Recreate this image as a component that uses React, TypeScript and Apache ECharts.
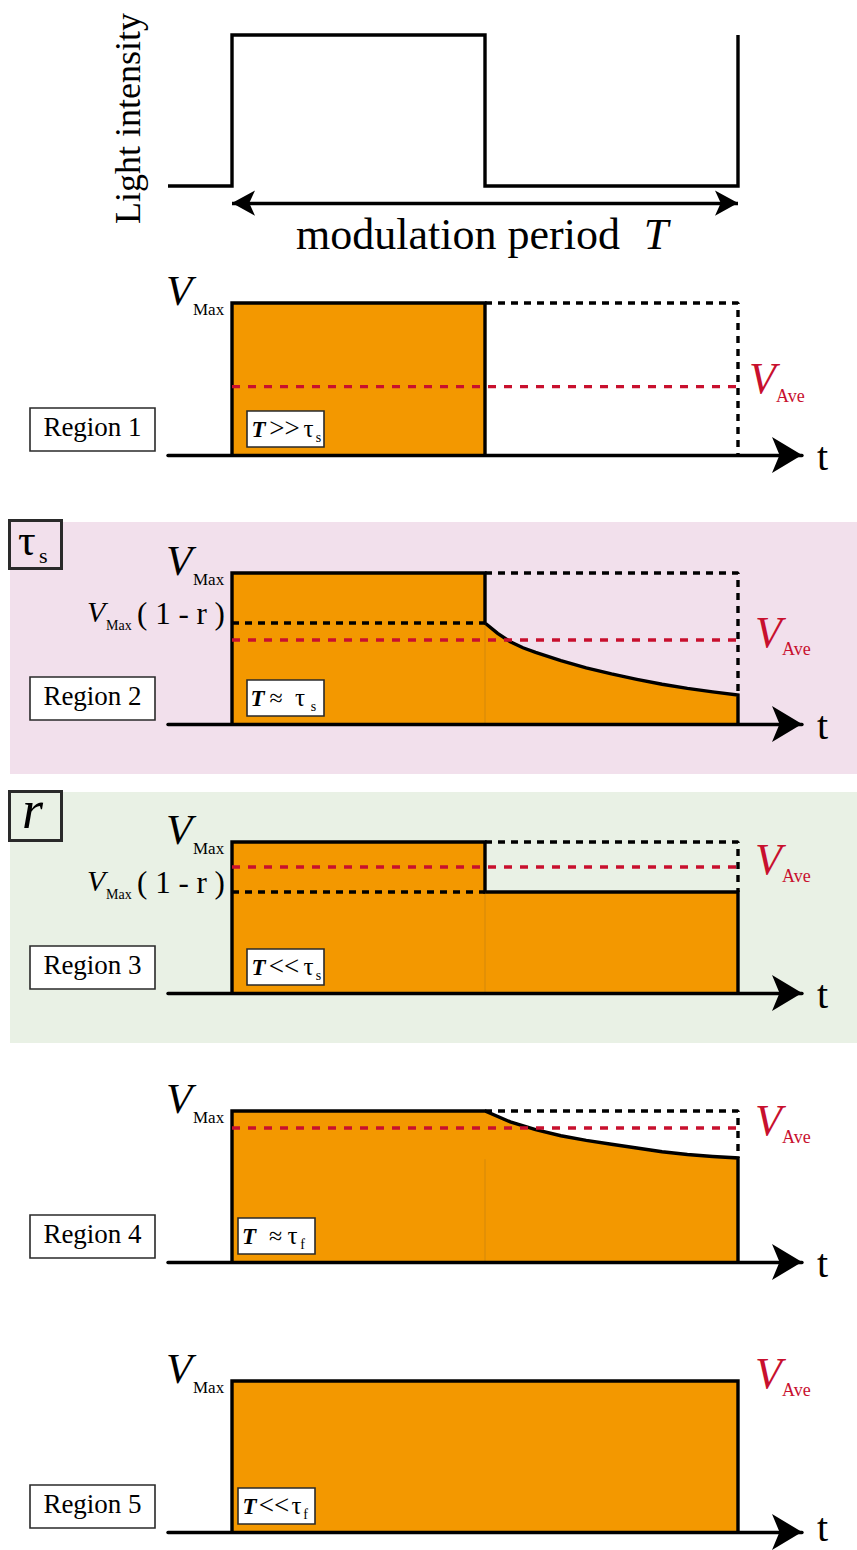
import React, { useEffect, useRef } from "react";
import * as echarts from "echarts";

// ---------- axis ranges (time in units of the period T, voltage in units of V_Max)
const X_MIN = -0.1265;
const X_MAX = 1.1265;
const Y_MAX = 1.1;
const Y_MIN_TOP = -0.2;
const Y_MIN_REGION = -0.1;

// ---------- light intensity (square wave)
const lightT = [-0.1265, 0, 0, 0.5, 0.5, 1, 1];
const lightI = [0, 0, 1, 1, 0, 0, 1];
const periodArrowLevel = -0.113;

// ---------- Region 1 : T >> tau_s
const r1T = [0, 0, 0.5, 0.5];
const r1V = [0, 1, 1, 0];
const r1IdealT = [0.5, 1, 1];
const r1IdealV = [1, 1, 0];
const r1Ave = 0.45;

// ---------- Region 2 : T ~ tau_s
const r2T = [0, 0, 0.5, 0.5, 0.525, 0.55, 0.575, 0.6, 0.65, 0.7, 0.75, 0.8, 0.85, 0.9, 0.95, 1, 1];
const r2V = [0, 1, 1, 0.669, 0.6, 0.545, 0.505, 0.475, 0.42, 0.372, 0.332, 0.296, 0.263, 0.236, 0.213, 0.192, 0];
const r2IdealT = [0.5, 1, 1];
const r2IdealV = [1, 1, 0.192];
const r2Low = 0.669;
const r2Ave = 0.556;

// ---------- Region 3 : T << tau_s
const r3T = [0, 0, 0.5, 0.5, 1, 1];
const r3V = [0, 1, 1, 0.669, 0.669, 0];
const r3IdealT = [0.5, 1, 1];
const r3IdealV = [1, 1, 0.669];
const r3Low = 0.669;
const r3Ave = 0.834;

// ---------- Region 4 : T ~ tau_f
const r4T = [0, 0, 0.5, 0.55, 0.6, 0.65, 0.7, 0.75, 0.8, 0.85, 0.9, 0.95, 1, 1];
const r4V = [0, 1, 1, 0.928, 0.877, 0.836, 0.805, 0.78, 0.755, 0.73, 0.712, 0.699, 0.689, 0];
const r4IdealT = [0.5, 1, 1];
const r4IdealV = [1, 1, 0.689];
const r4Ave = 0.887;

// ---------- Region 5 : T << tau_f
const r5T = [0, 0, 1, 1];
const r5V = [0, 1, 1, 0];
const r5Ave = 1;

// ---------- texts
const regionNames = ["Region 1", "Region 2", "Region 3", "Region 4", "Region 5"];
const condOps = [">>", "≈", "<<", "≈", "<<"];
const condSubs = ["s", "s", "s", "f", "f"];

// ---------- layout (pixels)
const PANEL_BASE = [186, 455, 724, 993, 1262, 1532];
const PANEL_UNIT = [151, 152, 151, 151, 151, 151];

const ORANGE = "#F39800";
const RED = "#C8102E";
const PINK = "#F2E0EC";
const GREEN = "#E9F1E5";
const SERIF = "'Liberation Serif', 'DejaVu Serif', serif";

type LOpt = { italic?: boolean; bold?: boolean; color?: string; align?: string; rotation?: number };

function txtC(x: number, cy: number, text: string, size: number, o: LOpt = {}) {
  const align = o.align || "left";
  return {
    type: "text",
    x,
    y: cy,
    z: 20,
    silent: true,
    rotation: o.rotation || 0,
    style: {
      text,
      fill: o.color || "#000",
      font: `${o.italic ? "italic" : "normal"} ${o.bold ? "bold" : "normal"} ${size}px ${SERIF}`,
      textAlign: align,
      textVerticalAlign: "middle",
      align,
      verticalAlign: "middle",
    },
  };
}
function txt(x: number, baseline: number, text: string, size: number, o: LOpt = {}) {
  return txtC(x, baseline - 0.3375 * size, text, size, o);
}
function box(x: number, y: number, w: number, h: number, lw = 1.6, fill = "#fff") {
  return {
    type: "rect",
    z: 15,
    silent: true,
    shape: { x, y, width: w, height: h },
    style: { fill, stroke: "#2a2a2a", lineWidth: lw },
  };
}

const pts = (xs: number[], ys: number[]) => xs.map((x, i) => [x, ys[i]]);

function ln(gi: number, data: number[][], lineStyle: any, extra: any = {}) {
  return {
    type: "line",
    xAxisIndex: gi,
    yAxisIndex: gi,
    data,
    symbol: "none",
    showSymbol: false,
    silent: true,
    clip: false,
    lineStyle,
    emphasis: { disabled: true },
    ...extra,
  };
}

const SOLID = { color: "#000", width: 3.4, join: "miter" };
const BLACK_DASH = { color: "#000", width: 3.4, type: [7, 6] };
const RED_DASH = { color: RED, width: 3.4, type: [8, 8] };
const SEAM = { color: "rgba(120,90,40,0.25)", width: 1 };

const regions = [
  { t: r1T, v: r1V, it: r1IdealT, iv: r1IdealV, ave: r1Ave, low: null as number | null, seam: null as number | null, showAve: true, aveX: 749, boxX: 247 },
  { t: r2T, v: r2V, it: r2IdealT, iv: r2IdealV, ave: r2Ave, low: r2Low, seam: r2Low, showAve: true, aveX: 755, boxX: 247 },
  { t: r3T, v: r3V, it: r3IdealT, iv: r3IdealV, ave: r3Ave, low: r3Low, seam: r3Low, showAve: true, aveX: 755, boxX: 247 },
  { t: r4T, v: r4V, it: r4IdealT, iv: r4IdealV, ave: r4Ave, low: null, seam: 0.68, showAve: true, aveX: 755, boxX: 238 },
  { t: r5T, v: r5V, it: null as number[] | null, iv: null as number[] | null, ave: r5Ave, low: null, seam: null, showAve: false, aveX: 755, boxX: 238 },
];

// x-centres of the pieces inside the condition boxes
const condLayout = [
  { T: 258.5, op: 284.5, tau: 308.5, sub: 318.5 },
  { T: 257.5, op: 276, tau: 300, sub: 313.5 },
  { T: 258.5, op: 284, tau: 308.5, sub: 318.5 },
  { T: 249, op: 275.5, tau: 292.5, sub: 302.5 },
  { T: 249.5, op: 274, tau: 296.5, sub: 305.5 },
];

function buildOption() {
  const yMin = PANEL_BASE.map((_, i) => (i === 0 ? Y_MIN_TOP : Y_MIN_REGION));
  const grid = PANEL_BASE.map((b, i) => ({
    left: 168,
    width: 634,
    top: b - Y_MAX * PANEL_UNIT[i],
    height: (Y_MAX - yMin[i]) * PANEL_UNIT[i],
  }));
  const xAxis = PANEL_BASE.map((_, i) => ({
    gridIndex: i,
    type: "value",
    min: X_MIN,
    max: X_MAX,
    show: i > 0,
    z: 5,
    axisLine: {
      show: true,
      onZero: true,
      symbol: ["none", "arrow"],
      symbolSize: [27, 30],
      lineStyle: { color: "#000", width: 3.4 },
    },
    axisTick: { show: false },
    axisLabel: { show: false },
    splitLine: { show: false },
  }));
  const yAxis = PANEL_BASE.map((_, i) => ({
    gridIndex: i,
    type: "value",
    min: yMin[i],
    max: Y_MAX,
    show: false,
    splitLine: { show: false },
  }));

  const series: any[] = [];
  series.push(
    ln(0, pts(lightT, lightI), SOLID, {
      markLine: {
        silent: true,
        symbol: ["arrow", "arrow"],
        symbolSize: [19, 23],
        label: { show: false },
        emphasis: { disabled: true },
        lineStyle: { color: "#000", width: 3.4, type: "solid" },
        data: [[{ coord: [0, periodArrowLevel] }, { coord: [1, periodArrowLevel] }]],
      },
    })
  );

  regions.forEach((r, k) => {
    const gi = k + 1;
    series.push(ln(gi, pts(r.t, r.v), SOLID, { areaStyle: { color: ORANGE, opacity: 1 } }));
    if (r.seam !== null) series.push(ln(gi, [[0.5, 0], [0.5, r.seam]], SEAM));
    if (r.it && r.iv) series.push(ln(gi, pts(r.it, r.iv), BLACK_DASH));
    if (r.low !== null) series.push(ln(gi, [[0, r.low], [0.5, r.low]], BLACK_DASH));
    if (r.showAve) series.push(ln(gi, [[0, r.ave], [1, r.ave]], RED_DASH));
  });

  const graphic: any[] = [];
  // coloured backgrounds
  graphic.push({ type: "rect", z: 0, silent: true, shape: { x: 10, y: 522, width: 847, height: 252 }, style: { fill: PINK } });
  graphic.push({ type: "rect", z: 0, silent: true, shape: { x: 10, y: 792, width: 847, height: 251 }, style: { fill: GREEN } });

  // top panel texts
  graphic.push(txtC(128, 118.5, "Light intensity", 36, { align: "center", rotation: Math.PI / 2 }));
  graphic.push(txt(458, 249, "modulation period", 44, { align: "center" }));
  graphic.push(txt(656, 249, "T", 44, { align: "center", italic: true }));

  // parameter boxes
  graphic.push(box(9.5, 520.5, 52, 48, 3, "rgba(0,0,0,0)"));
  graphic.push(txt(18, 555, "τ", 44));
  graphic.push(txt(39, 563, "s", 22));
  graphic.push(box(9.5, 791.5, 52, 49, 3, "rgba(0,0,0,0)"));
  graphic.push(txt(22, 828, "r", 54, { italic: true }));

  regions.forEach((r, k) => {
    const gi = k + 1;
    const B = PANEL_BASE[gi];
    const u = PANEL_UNIT[gi];
    const Tp = B - u;
    // V_Max
    graphic.push(txt(166, Tp + 2, "V", 43, { italic: true }));
    graphic.push(txt(193, Tp + 12, "Max", 17));
    // t
    graphic.push(txt(817, Math.min(B + 15, 1541), "t", 40));
    // V_Ave
    const yAve = B - r.ave * u;
    graphic.push(txt(r.aveX, yAve + 7, "V", 44, { italic: true, color: RED }));
    graphic.push(txt(r.aveX + 27, yAve + 15, "Ave", 18, { color: RED }));
    // V_Max(1 - r)
    if (r.low !== null) {
      const L = B - r.low * u;
      graphic.push(txt(87, L - 1, "V", 30, { italic: true }));
      graphic.push(txt(106, L + 7, "Max", 14));
      graphic.push(txt(181, L + 1, "( 1 - r )", 31, { align: "center" }));
    }
    // region box
    graphic.push(box(30, B - 47, 125, 43));
    graphic.push(txt(92.5, B - 19, regionNames[k], 27, { align: "center" }));
    // condition box
    graphic.push(box(r.boxX, B - 44, 77, 36));
    const c = condLayout[k];
    graphic.push(txt(c.T, B - 18, "T", 23, { align: "center", italic: true, bold: true }));
    graphic.push(txt(c.op, B - 18, condOps[k], condOps[k] === "≈" ? 24 : 27, { align: "center" }));
    graphic.push(txt(c.tau, B - 18, "τ", 25, { align: "center" }));
    graphic.push(txt(c.sub, B - 13, condSubs[k], 14, { align: "center" }));
  });

  return {
    animation: false,
    backgroundColor: "#fff",
    grid,
    xAxis,
    yAxis,
    series,
    graphic,
  };
}

export default function App() {
  const ref = useRef<HTMLDivElement>(null);
  useEffect(() => {
    if (!ref.current) return;
    const chart = echarts.init(ref.current, null, { renderer: "svg" });
    chart.setOption(buildOption() as any);
    return () => chart.dispose();
  }, []);
  return (
    <div
      ref={ref}
      style={{ position: "absolute", left: 0, top: 0, width: 857, height: 1550, background: "#fff" }}
    />
  );
}
